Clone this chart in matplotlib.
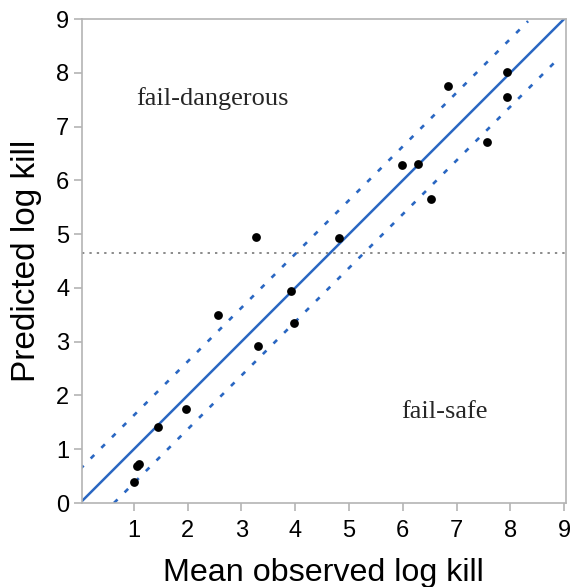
import matplotlib
matplotlib.use("Agg")
import matplotlib.pyplot as plt
import numpy as np

# Datos
observado = [1.00, 1.05, 1.10, 1.44, 1.97, 2.57, 3.28, 3.30, 3.92, 3.98,
             4.81, 5.98, 6.28, 6.52, 6.85, 7.56, 7.94, 7.94]
predicho = [0.39, 0.69, 0.72, 1.42, 1.74, 3.49, 4.94, 2.92, 3.95, 3.34,
            4.92, 6.29, 6.31, 5.65, 7.75, 6.72, 8.02, 7.55]
banda = 0.63          # ancho de la banda discontinua
umbral = 4.65         # linea horizontal punteada
ticks = [0, 1, 2, 3, 4, 5, 6, 7, 8, 9]
x_ticks = [1, 2, 3, 4, 5, 6, 7, 8, 9]
etiquetas = [("fail-dangerous", 2.47, 7.52), ("fail-safe", 6.78, 1.70)]

azul = "#2a67c2"
gris = "#b4b4b4"

fig = plt.figure(figsize=(5.72, 5.87), dpi=100)
ax = fig.add_axes([0.1428, 0.1431, 0.989 - 0.1428, 0.9676 - 0.1431])

# linea 1:1 y banda
xs = np.array([0, 9])
ax.plot(xs, xs, color=azul, lw=1.8, zorder=2)
xs_sup = np.array([0, 8.33])
ax.plot(xs_sup, xs_sup + banda, color=azul, lw=1.9, ls=(0, (1.9, 3.8)), zorder=2)
xs_inf = np.array([banda, 8.9])
ax.plot(xs_inf, xs_inf - banda, color=azul, lw=1.9, ls=(0, (1.9, 3.8)), zorder=2)

# umbral
ax.axhline(umbral, color="#8a8a8a", lw=1.4, ls=(0, (1.2, 2.6)), zorder=1)

ax.scatter(observado, predicho, s=40, color="black", zorder=3, linewidths=0)

for texto, x, y in etiquetas:
    ax.text(x, y, texto, ha="center", va="center", fontsize=19,
            family="Liberation Serif", color="#262626")

ax.set_xlim(0.03, 9.03)
ax.set_ylim(0, 9)
ax.set_xticks(x_ticks)
ax.set_yticks(ticks)
ax.tick_params(axis="both", direction="out", length=6, width=1.2, color=gris,
               labelsize=17)
ax.tick_params(axis="x", pad=6)
ax.tick_params(axis="y", pad=3)
for lab in ax.get_xticklabels() + ax.get_yticklabels():
    lab.set_family("Liberation Sans")
for sp in ax.spines.values():
    sp.set_color(gris)
    sp.set_linewidth(1.2)

ax.set_xlabel("Mean observed log kill", fontsize=23.2, family="Liberation Sans")
ax.set_ylabel("Predicted log kill", fontsize=24, family="Liberation Sans")
ax.xaxis.set_label_coords(0.5, -0.161)
ax.xaxis.label.set_va("baseline")
ax.yaxis.set_label_coords(-0.115, 0.5)
ax.yaxis.label.set_va("center")

fig.savefig("out.png", dpi=100)
